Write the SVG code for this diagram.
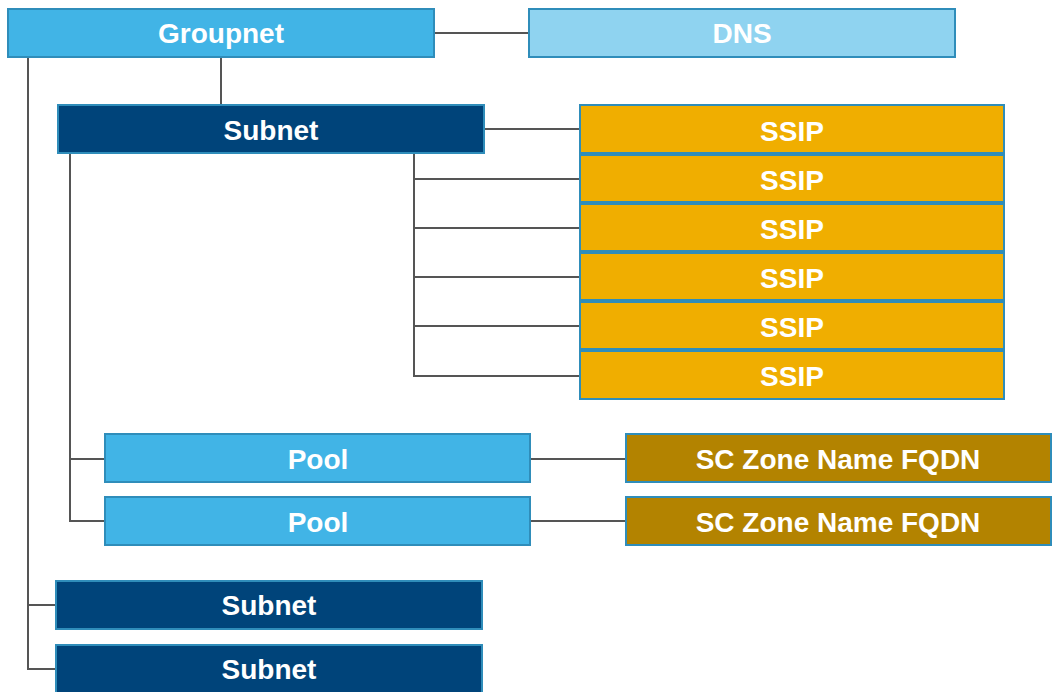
<svg xmlns="http://www.w3.org/2000/svg" width="1053" height="692" viewBox="0 0 1053 692">
<style>
rect{stroke:#2f8dba;stroke-width:2}
.g{fill:#41b4e6}
.d{fill:#8fd3f0}
.s{fill:#00447a}
.y{fill:#f0ae00}
.z{fill:#b38300}
text{font-family:"Liberation Sans",Arial,sans-serif;font-weight:bold;font-size:28px;fill:#fff;text-anchor:middle}
.c line{stroke:#555;stroke-width:2}
</style>
<rect width="1053" height="692" fill="#fff" style="stroke:none"/>
<g class="c" id="connectors">
<line x1="434" y1="33" x2="529" y2="33"/>
<line x1="221" y1="57" x2="221" y2="105"/>
<line x1="28" y1="57" x2="28" y2="669"/>
<line x1="27" y1="605" x2="56" y2="605"/>
<line x1="27" y1="669" x2="56" y2="669"/>
<line x1="484" y1="129" x2="580" y2="129"/>
<line x1="414" y1="153" x2="414" y2="377"/>
<line x1="413" y1="179" x2="580" y2="179"/>
<line x1="413" y1="228" x2="580" y2="228"/>
<line x1="413" y1="277" x2="580" y2="277"/>
<line x1="413" y1="326" x2="580" y2="326"/>
<line x1="413" y1="376" x2="580" y2="376"/>
<line x1="70" y1="153" x2="70" y2="522"/>
<line x1="69" y1="459" x2="105" y2="459"/>
<line x1="69" y1="521" x2="105" y2="521"/>
<line x1="530" y1="459" x2="626" y2="459"/>
<line x1="530" y1="521" x2="626" y2="521"/>
</g>
<g id="groupnet"><rect class="g" x="8" y="9" width="426" height="48"/><text x="221" y="43">Groupnet</text></g>
<g id="dns"><rect class="d" x="529" y="9" width="426" height="48"/><text x="742" y="43">DNS</text></g>
<g id="subnet1"><rect class="s" x="58" y="105" width="426" height="48"/><text x="271" y="140">Subnet</text></g>
<g id="ssip1"><rect class="y" x="580" y="105" width="424" height="48"/><text x="792" y="141">SSIP</text></g>
<g id="ssip2"><rect class="y" x="580" y="155" width="424" height="47"/><text x="792" y="190">SSIP</text></g>
<g id="ssip3"><rect class="y" x="580" y="204" width="424" height="47"/><text x="792" y="239">SSIP</text></g>
<g id="ssip4"><rect class="y" x="580" y="253" width="424" height="47"/><text x="792" y="288">SSIP</text></g>
<g id="ssip5"><rect class="y" x="580" y="302" width="424" height="47"/><text x="792" y="337">SSIP</text></g>
<g id="ssip6"><rect class="y" x="580" y="351" width="424" height="48"/><text x="792" y="386">SSIP</text></g>
<g id="pool1"><rect class="g" x="105" y="434" width="425" height="48"/><text x="318" y="469">Pool</text></g>
<g id="pool2"><rect class="g" x="105" y="497" width="425" height="48"/><text x="318" y="532">Pool</text></g>
<g id="sczone1"><rect class="z" x="626" y="434" width="425" height="48"/><text x="838" y="469">SC Zone Name FQDN</text></g>
<g id="sczone2"><rect class="z" x="626" y="497" width="425" height="48"/><text x="838" y="532">SC Zone Name FQDN</text></g>
<g id="subnet2"><rect class="s" x="56" y="581" width="426" height="48"/><text x="269" y="615">Subnet</text></g>
<g id="subnet3"><rect class="s" x="56" y="645" width="426" height="50"/><text x="269" y="679">Subnet</text></g>
</svg>
